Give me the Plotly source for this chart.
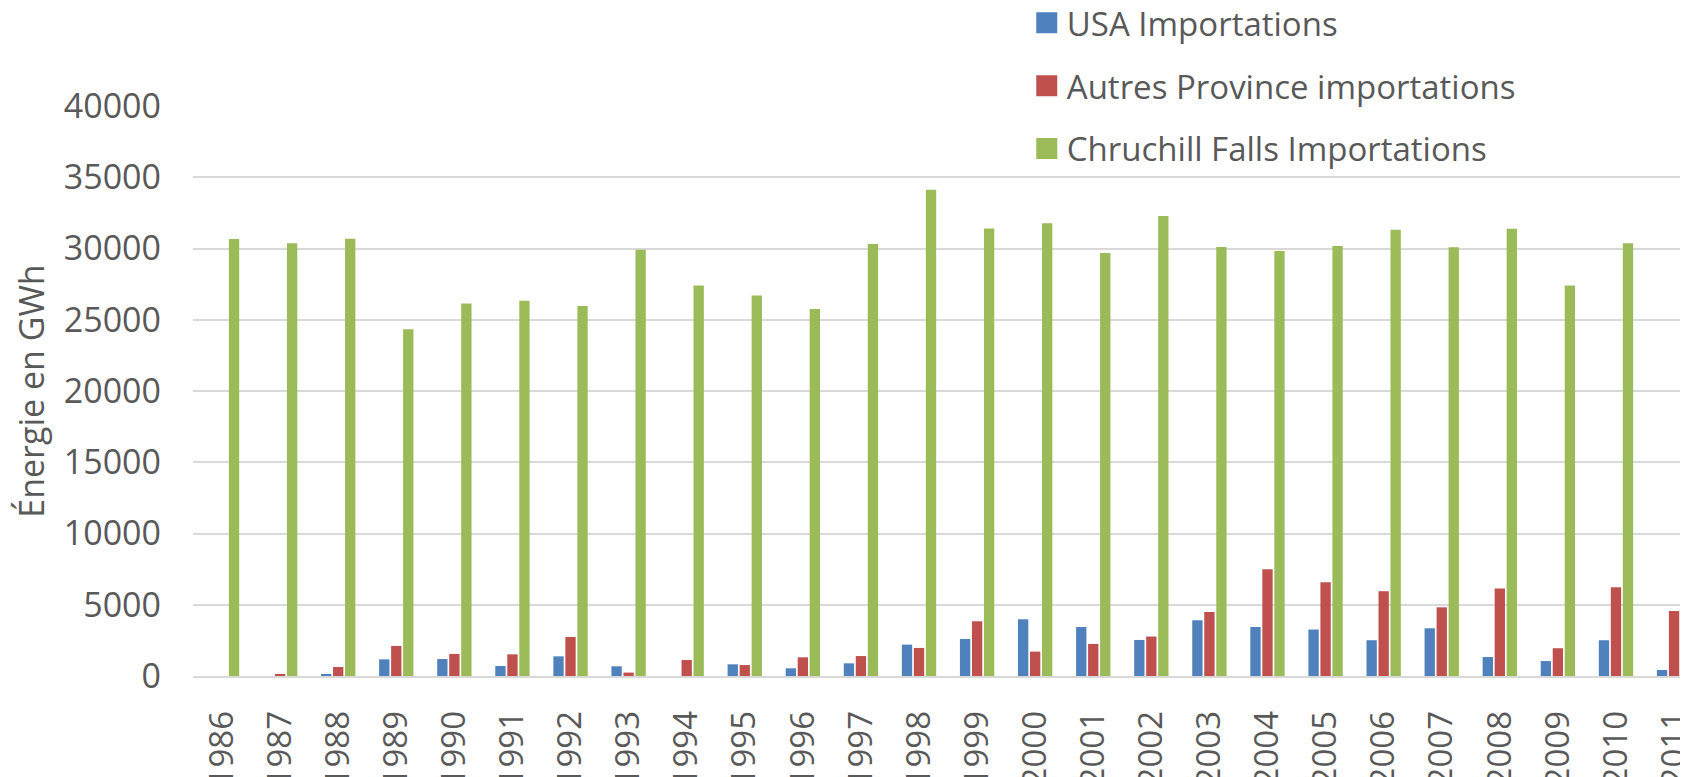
import plotly.graph_objects as go

years = [str(y) for y in range(1986, 2012)]
usa_importations = [0, 0, 80, 1170, 1190, 700, 1380, 680, 0, 820, 540, 890, 2200, 2600,
                    3980, 3440, 2530, 3910, 3440, 3260, 2510, 3350, 1330, 1050, 2510, 420]
autres_province = [0, 90, 630, 2110, 1550, 1520, 2740, 240, 1120, 770, 1310, 1400, 1970, 3840,
                   1710, 2250, 2770, 4490, 7490, 6580, 5950, 4820, 6140, 1950, 6230, 4560]
churchill_falls = [30660, 30360, 30680, 24340, 26140, 26330, 25960, 29910, 27410, 26710, 25750, 30310, 34120, 31410,
                   31780, 29680, 32280, 30100, 29820, 30170, 31310, 30080, 31380, 27410, 30360, 30170]

series_names = ["USA Importations", "Autres Province importations", "Chruchill Falls Importations"]
series_values = [usa_importations, autres_province, churchill_falls]
colors = ["#4F81BD", "#C0504D", "#9BBB59"]

FONT = "Open Sans"
TXT = "#595959"
GRID = "#D9D9D9"
FS = 33

fig = go.Figure()
for i, (name, vals, col) in enumerate(zip(series_names, series_values, colors)):
    fig.add_trace(go.Bar(x=years, y=vals, name=name, marker=dict(color=col, line=dict(width=0)),
                         legendgroup=f"g{i}", showlegend=False))
    # legend entry (larger square swatch)
    fig.add_trace(go.Scatter(x=[None], y=[None], mode="markers", name=name, legendgroup=f"g{i}",
                             marker=dict(symbol="square", size=16, color=col, line=dict(color=col, width=5)),
                             hoverinfo="skip"))

# page body has an 8px margin: figure is sized so it ends at the window edges
fig.update_layout(
    width=1680, height=769,
    margin=dict(l=185, r=0, t=98, b=101, autoexpand=False),
    paper_bgcolor="white", plot_bgcolor="white",
    font=dict(family=FONT, size=FS, color=TXT),
    barmode="group", bargap=0.38, bargroupgap=0.14,
    showlegend=True,
    legend=dict(x=0.5577, y=1.195, xanchor="left", yanchor="top", bgcolor="rgba(0,0,0,0)",
                font=dict(family=FONT, size=FS, color=TXT), tracegroupgap=17,
                itemclick=False, itemdoubleclick=False),
    xaxis=dict(type="category", range=[-0.5, 25.24], tickangle=-90, showgrid=False, automargin=False,
               showline=True, linecolor=GRID, linewidth=1.5, ticks="", ticklabelstandoff=20,
               tickfont=dict(family=FONT, size=FS, color=TXT)),
    yaxis=dict(range=[0, 40000], dtick=5000, tickformat="d", showgrid=True, gridcolor=GRID, gridwidth=1.5,
               zeroline=False, showline=False, ticks="", ticklabelstandoff=31, automargin=False,
               tickfont=dict(family=FONT, size=34, color=TXT),
               title=dict(text="Énergie en GWh", font=dict(family=FONT, size=34, color=TXT), standoff=10)),
)

fig.write_html("out.html")
